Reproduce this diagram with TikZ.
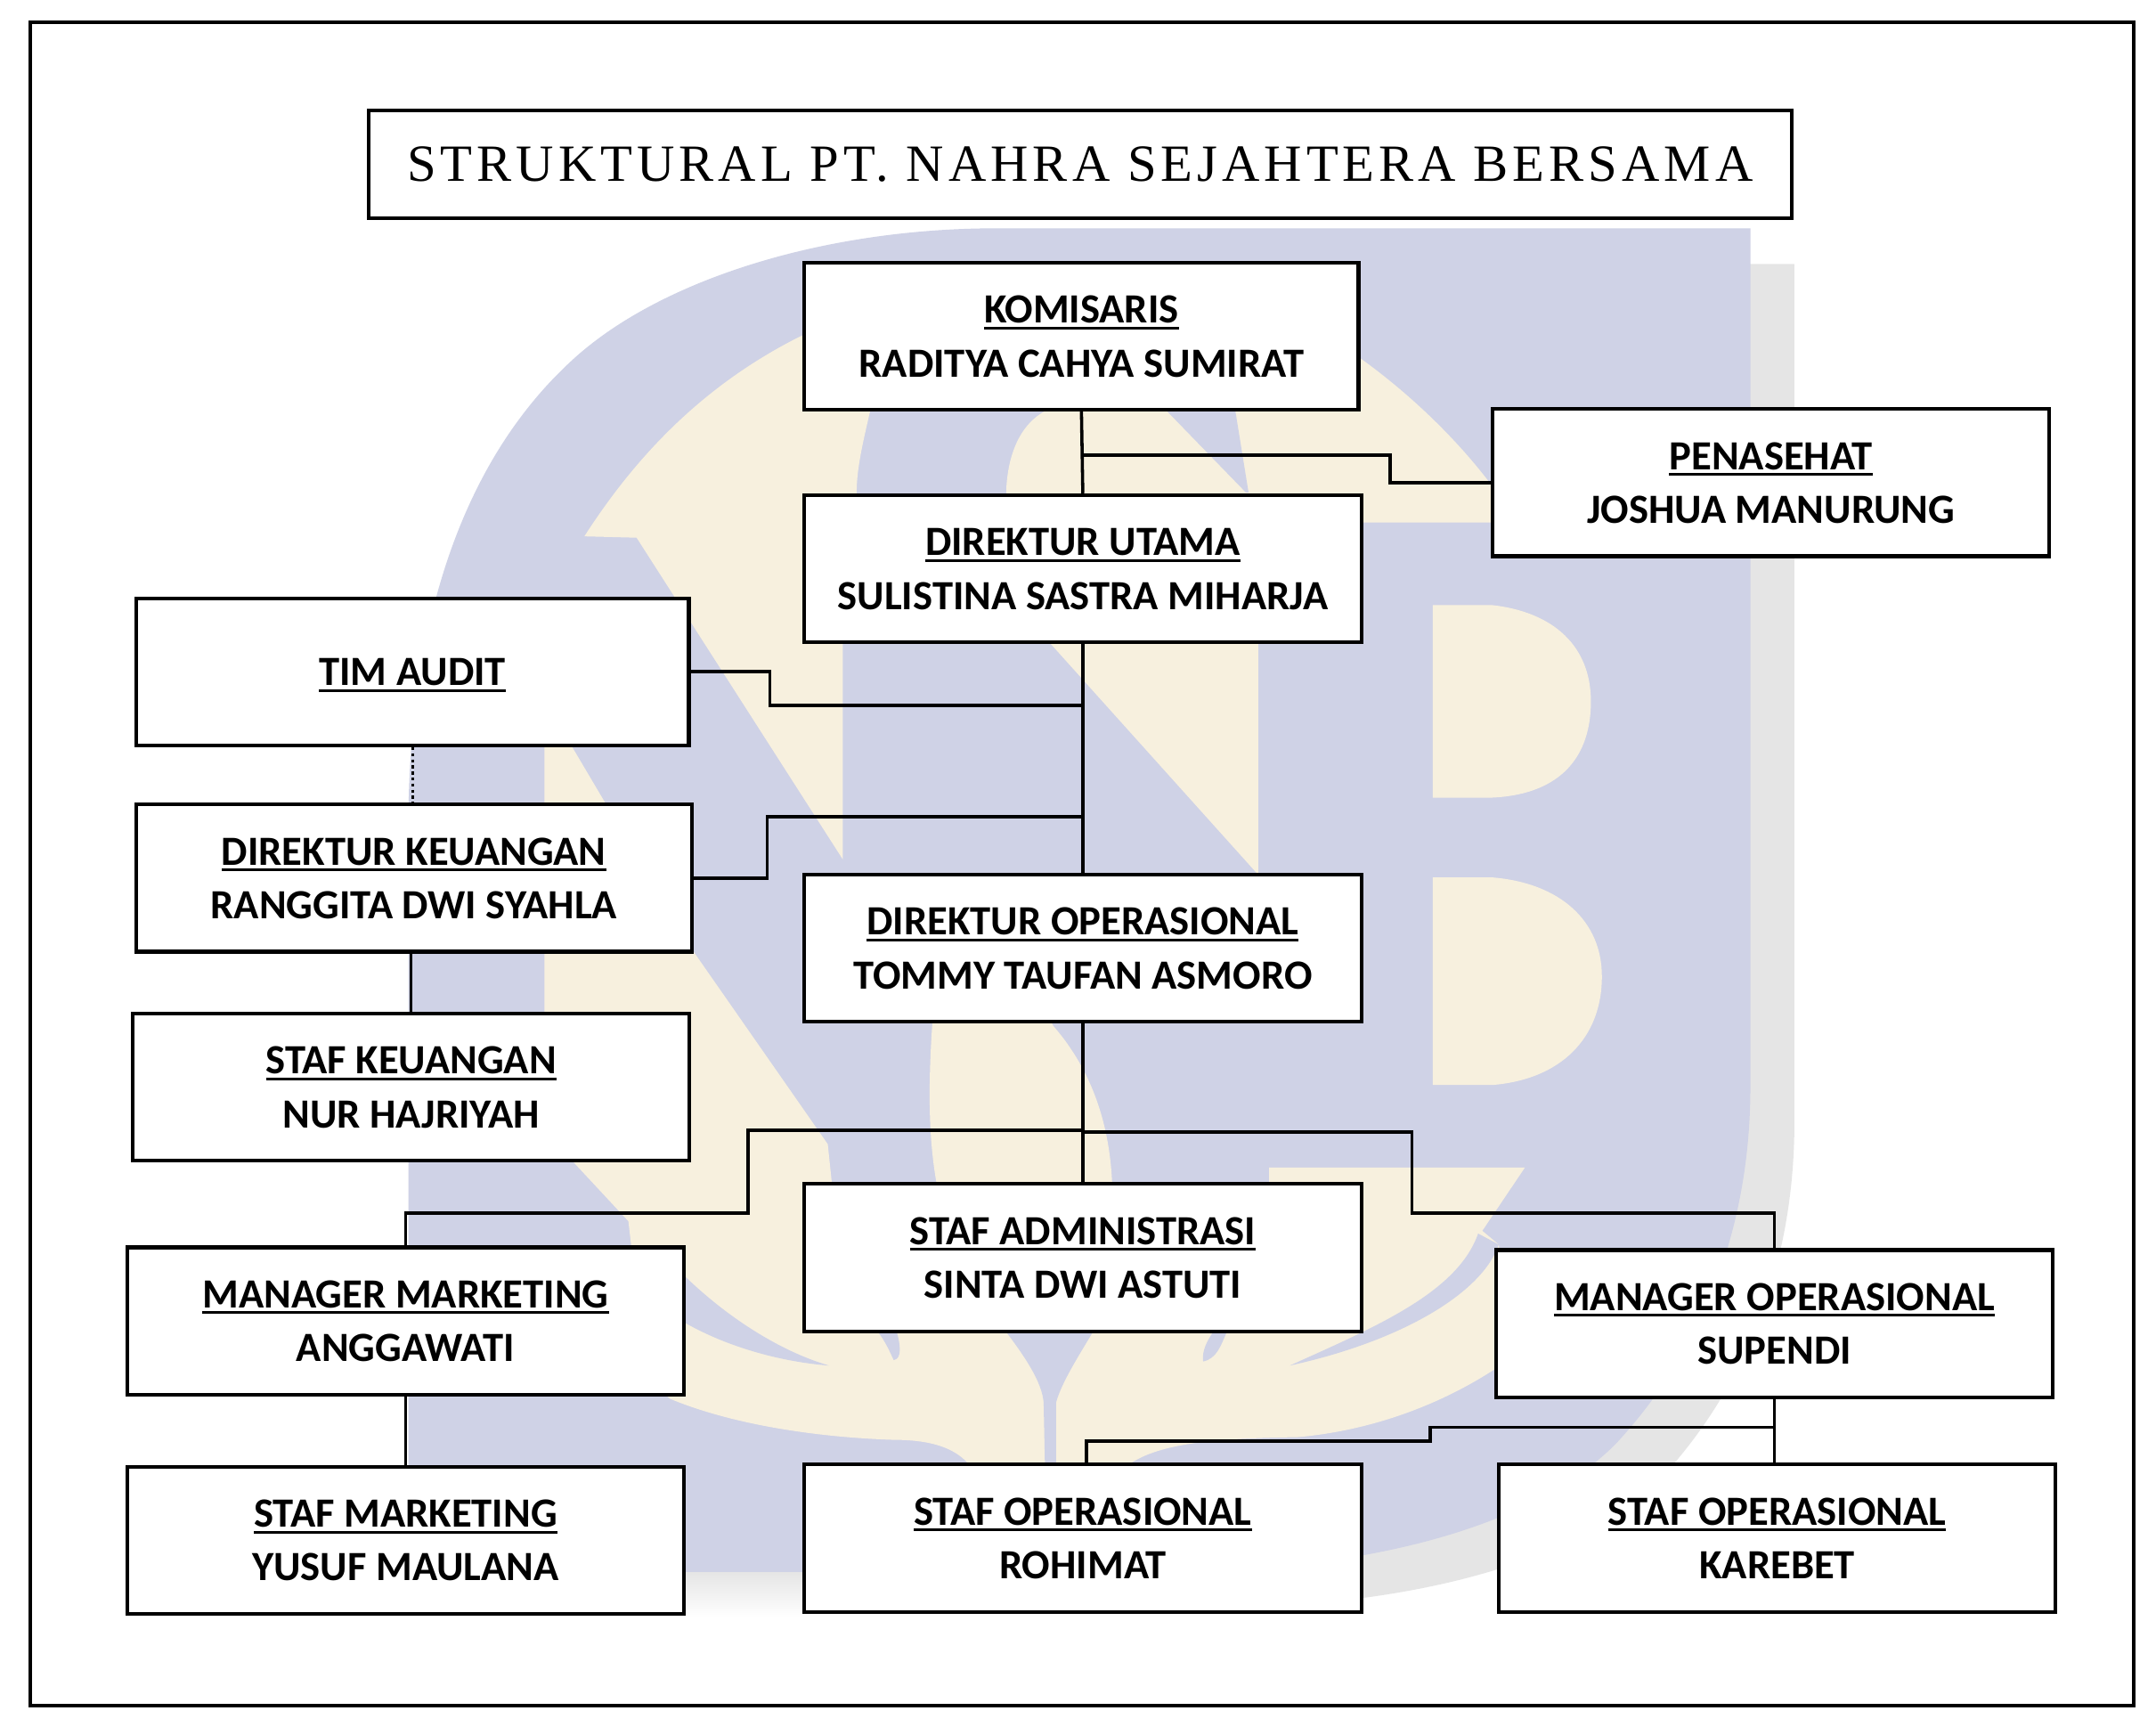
\documentclass[tikz,border=0pt]{standalone}
\usepackage{fontspec}
\setmainfont{Carlito}
\newfontfamily\titlefont[LetterSpace=8.5]{Liberation Serif}
\definecolor{wmblue}{HTML}{CFD2E6}
\definecolor{wmcream}{HTML}{F7F0DE}
\definecolor{wmshadow}{HTML}{E5E5E5}
\newcommand\ulin[1]{\setbox0=\hbox{#1}\rlap{\rule[-4.5pt]{\wd0}{2pt}}\box0}
\newcommand\sttt{\rule[-6pt]{0pt}{32pt}}
\newcommand\tworows[2]{\sttt\ulin{#1}\\\sttt #2}
\newcommand\shieldpath{(297,1143) -- (297,600) .. controls (297,490) and (320,350) .. (416,262)
  .. controls (480,203) and (600,166) .. (725,166) -- (1273,166) -- (1273,790)
  .. controls (1273,890) and (1240,980) .. (1175,1050)
  .. controls (1100,1125) and (950,1143) .. (850,1143) -- cycle}
\tikzset{
  orgbox/.style={draw=black,fill=white,line width=2.7pt,inner sep=0pt,align=center,
    minimum width=405pt,minimum height=107pt,
    font=\fontsize{30.2}{39}\selectfont\bfseries},
  conn/.style={draw=black,line width=2.3pt,line join=miter},
  cream/.style={fill=wmcream},
  blueover/.style={fill=wmblue}
}
\begin{document}
\begin{tikzpicture}[x=1pt,y=-1pt]
\useasboundingbox (0,0) rectangle (1568,1255.8);
\fill[white] (0,0) rectangle (1568,1255.8);
% watermark
\fill[wmshadow,shift={(32,26)}] \shieldpath;
\shade[top color=wmshadow,bottom color=white] (329,1143) rectangle (880,1176);
\fill[wmblue] \shieldpath;
% crescent and right stem
\path[cream] (425,390) .. controls (470,320) and (530,262) .. (620,228)
  .. controls (720,195) and (900,200) .. (990,261)
  .. controls (1030,290) and (1065,325) .. (1090,360)
  -- (1090,380) -- (915,380) -- (915,636) -- (764,468) -- (732,400) -- (732,353)
  .. controls (734,325) and (745,305) .. (764,297)
  -- (790,250) -- (640,250) -- (633,298)
  .. controls (628,320) and (623,340) .. (623,358)
  -- (613,467) -- (613,625) -- (463,391) -- cycle;
\path[blueover] (840,290) -- (906,358) -- (908,358) -- (897,290) -- cycle;
% centre leaf
\path[cream] (678,700) -- (678,745) .. controls (675,790) and (675,830) .. (682,865)
  -- (809,865) .. controls (808,830) and (800,785) .. (766,746) -- (740,700) -- cycle;
% lower N and wings
\path[cream] (606,870) -- (923,865) -- (923,849) -- (1109,849) -- (1078,895) -- (1090,905)
  -- (1095,960) -- (1088,995) .. controls (1050,1020) and (1000,1040) .. (944,1045)
  .. controls (890,1046) and (840,1048) .. (817,1068) -- (707,1068)
  .. controls (695,1050) and (670,1047) .. (650,1047)
  .. controls (590,1045) and (530,1035) .. (487,1017)
  -- (470,1000) -- (457,888) -- (417,845) -- (396,800) -- (396,543) -- (416,543)
  -- (503,690) -- (602,832) -- cycle;
\path[blueover] (725,960) .. controls (745,985) and (758,1005) .. (759,1020) -- (760,1068)
  -- (768,1068) -- (768,1020) .. controls (772,1005) and (785,985) .. (800,960) -- cycle;
\path[blueover] (638,968) .. controls (644,975) and (648,985) .. (650,989)
  .. controls (656,988) and (655,978) .. (652,968) -- cycle;
\path[blueover] (875,990) .. controls (885,988) and (888,978) .. (892,969) -- (882,969)
  .. controls (878,975) and (874,982) .. (875,990) -- cycle;
\path[blueover] (495,925) .. controls (525,955) and (565,982) .. (603,993)
  .. controls (565,990) and (525,978) .. (495,960) -- cycle;
\path[blueover] (1075,897) -- (1090,905) .. controls (1078,940) and (1020,975) .. (938,993)
  .. controls (1000,965) and (1060,940) .. (1075,897) -- cycle;
% B letter
\path[cream] (1042,440) -- (1085,440) .. controls (1130,445) and (1157,470) .. (1157,510)
  .. controls (1157,555) and (1130,578) .. (1085,580) -- (1042,580) -- cycle;
\path[cream] (1042,638) -- (1085,638) .. controls (1135,642) and (1165,670) .. (1165,710)
  .. controls (1165,755) and (1135,785) .. (1085,789) -- (1042,789) -- cycle;
% frame
\node[draw=black,line width=2.7pt,minimum width=1530pt,minimum height=1224pt,inner sep=0pt] (frame) at (787,628) {};
% title
\node[draw=black,fill=white,line width=2.7pt,minimum width=1035pt,minimum height=78pt,inner sep=0pt,
  font=\fontsize{38}{40}\selectfont\titlefont] (title) at (785.5,119.5) {STRUKTURAL PT. NAHRA SEJAHTERA BERSAMA};
% boxes
\node[orgbox,minimum width=403pt] (kom) at (786.5,244.5) {\tworows{KOMISARIS}{RADITYA CAHYA SUMIRAT}};
\node[orgbox] (pen) at (1288,351) {\tworows{PENASEHAT}{JOSHUA MANURUNG}};
\node[orgbox] (dut) at (787.5,413.5) {\tworows{DIREKTUR UTAMA}{SULISTINA SASTRA MIHARJA}};
\node[orgbox,minimum width=402pt] (tim) at (300,488.5) {\sttt\ulin{TIM AUDIT}};
\node[orgbox,minimum width=404pt] (dke) at (301,638.5) {\tworows{DIREKTUR KEUANGAN}{RANGGITA DWI SYAHLA}};
\node[orgbox] (dop) at (787.5,689.5) {\tworows{DIREKTUR OPERASIONAL}{TOMMY TAUFAN ASMORO}};
\node[orgbox] (ske) at (299,790.5) {\tworows{STAF KEUANGAN}{NUR HAJRIYAH}};
\node[orgbox] (sad) at (787.5,914.5) {\tworows{STAF ADMINISTRASI}{SINTA DWI ASTUTI}};
\node[orgbox] (mma) at (295,960.5) {\tworows{MANAGER MARKETING}{ANGGAWATI}};
\node[orgbox] (mop) at (1290.5,962.5) {\tworows{MANAGER OPERASIONAL}{SUPENDI}};
\node[orgbox] (sma) at (295,1120) {\tworows{STAF MARKETING}{YUSUF MAULANA}};
\node[orgbox] (so1) at (787.5,1118.5) {\tworows{STAF OPERASIONAL}{ROHIMAT}};
\node[orgbox] (so2) at (1292.5,1118.5) {\tworows{STAF OPERASIONAL}{KAREBET}};
% junction points
\coordinate (j1) at (787.5,331);
\coordinate (b1) at (1011,331);
\coordinate (b2) at (560,513);
\coordinate (j2) at (787.5,513);
\coordinate (b3) at (558,594);
\coordinate (j3) at (789,594);
\coordinate (j4) at (788,822);
\coordinate (b4) at (544,882);
\coordinate (j5) at (788,823);
\coordinate (b5) at (1027,882);
\coordinate (j6) at (1291,1038);
\coordinate (b6) at (1040,1048);
\coordinate (s1top) at (790,1065);
% connectors
\draw[conn] (kom.south) -- (dut.north);
\draw[conn] (j1) -- (b1) |- (pen.west);
\draw[conn] (dut.south) -- (dop.north);
\draw[conn] (tim.east) -| (b2) -- (j2);
\draw[conn] (dke.east) -| (b3) -- (j3);
\draw[conn,line width=2.2pt,dash pattern=on 2.2pt off 2.2pt] (tim.south) -- (tim.south |- dke.north);
\draw[conn] (dke.south -| ske.north) -- (ske.north);
\draw[conn] (dop.south) -- (sad.north);
\draw[conn] (j4) -| (b4) -| (mma.north);
\draw[conn] (j5) -| (b5) -| (mop.north);
\draw[conn] (mma.south) -- (sma.north);
\draw[conn] (mop.south) -- (mop.south |- so2.north);
\draw[conn] (j6) -| (b6) -| (s1top);
\end{tikzpicture}
\end{document}
